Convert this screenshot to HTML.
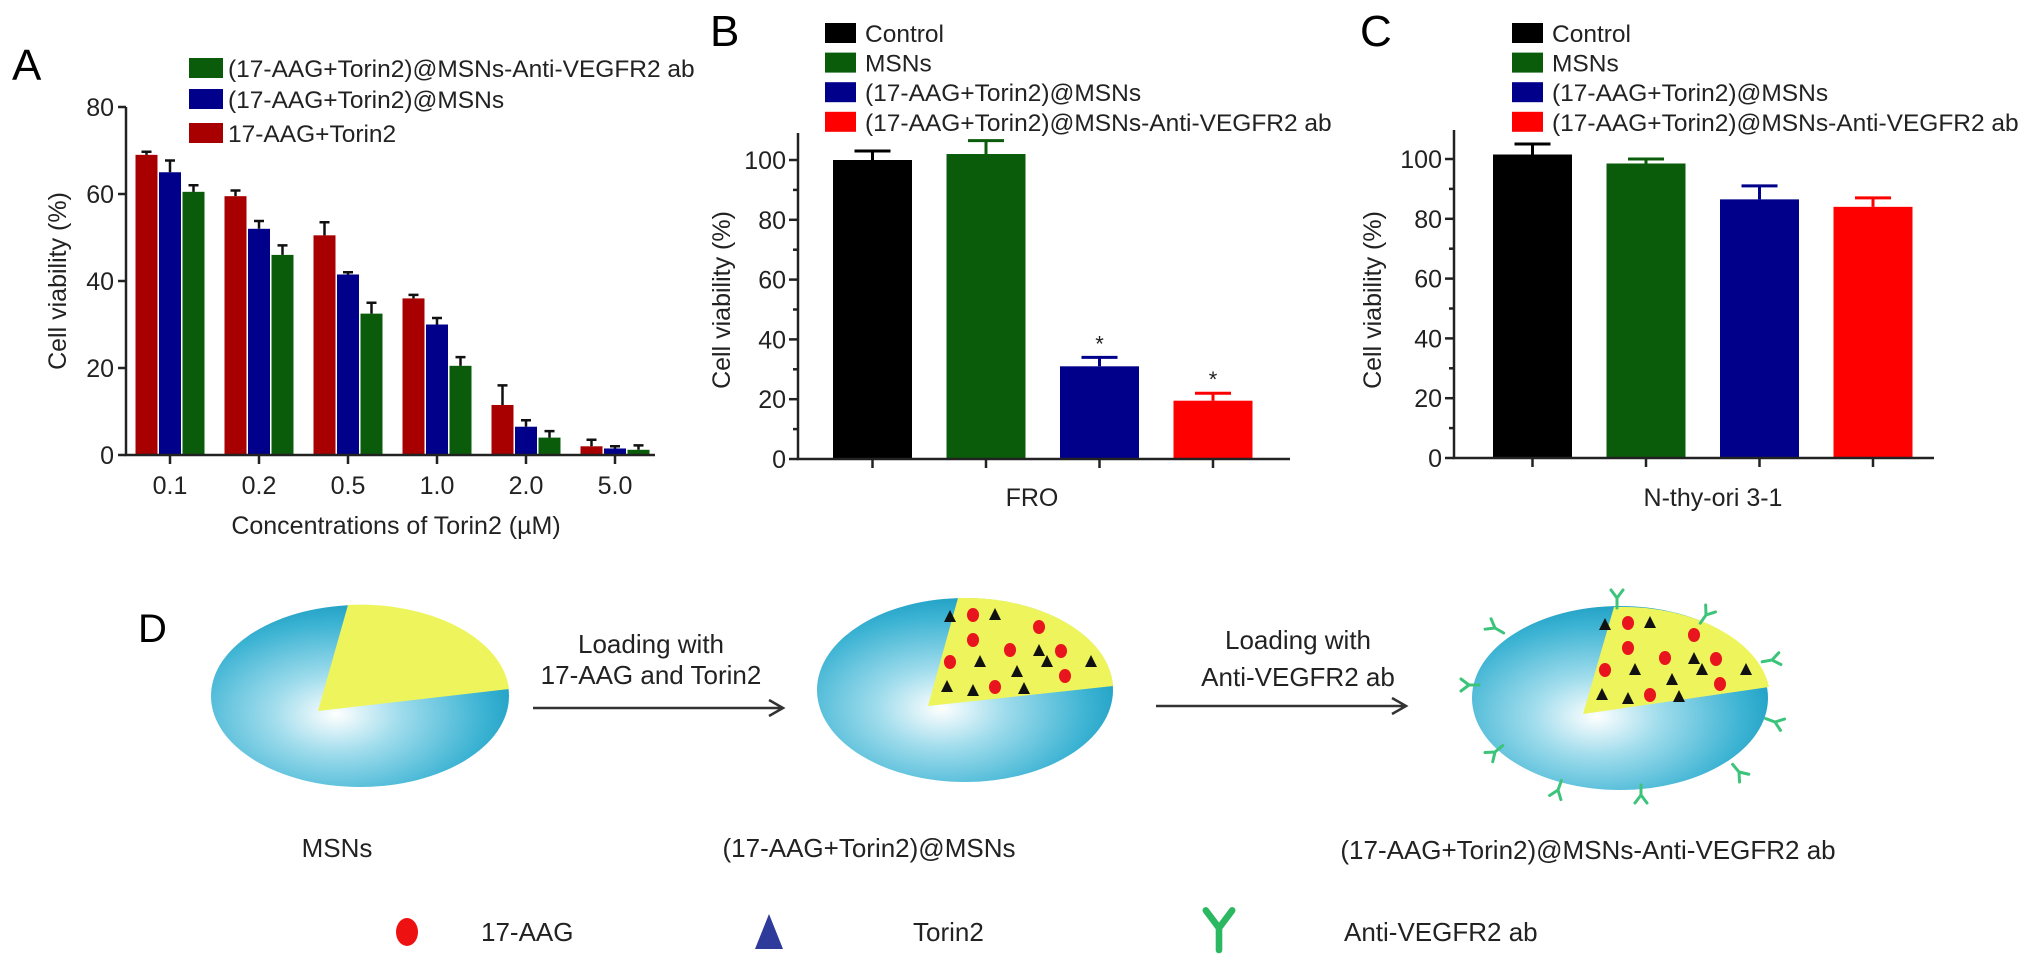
<!DOCTYPE html>
<html><head><meta charset="utf-8"><style>
html,body{margin:0;padding:0;background:#fff;}
svg{display:block;font-family:"Liberation Sans",sans-serif;}
</style></head><body>
<svg id="fig" width="2032" height="968" viewBox="0 0 2032 968" xmlns="http://www.w3.org/2000/svg">
<defs>
<radialGradient id="sph" cx="0.42" cy="0.6" r="0.62">
<stop offset="0" stop-color="#ffffff"/><stop offset="0.35" stop-color="#9fdcec"/><stop offset="0.8" stop-color="#3cb3d3"/><stop offset="1" stop-color="#1f9fc4"/>
</radialGradient>
</defs>
<g id="gA"></g>
<g id="gB"></g>
<g id="gC"></g>
<g id="gD"></g>
</svg>
<script>
// Panel A data
const aCategories = ["0.1","0.2","0.5","1.0","2.0","5.0"];
const aSeriesNames = ["17-AAG+Torin2","(17-AAG+Torin2)@MSNs","(17-AAG+Torin2)@MSNs-Anti-VEGFR2 ab"];
const aRed = [69,59.5,50.5,36,11.5,2];
const aBlue = [65,52,41.5,30,6.5,1.5];
const aGreen = [60.5,46,32.5,20.5,4,1.2];
const aRedErr = [0.7,1.3,3,0.8,4.5,1.5];
const aBlueErr = [2.7,1.8,0.5,1.5,1.5,0.5];
const aGreenErr = [1.5,2.2,2.5,2,1.5,1];
const aTicks = [0,20,40,60,80];
// Panel B data
const bCategories = ["Control","MSNs","(17-AAG+Torin2)@MSNs","(17-AAG+Torin2)@MSNs-Anti-VEGFR2 ab"];
const bValues = [100,102,31,19.5];
const bErrors = [3,4.5,3,2.5];
const bSignif = ["","","*","*"];
// Panel C data
const cValues = [101.5,98.5,86.5,84];
const cErrors = [3.5,1.5,4.5,3];
const bcTicks = [0,20,40,60,80,100];

const NS="http://www.w3.org/2000/svg";
function mk(parent,tag,attrs,text){const e=document.createElementNS(NS,tag);for(const k in attrs)e.setAttribute(k,attrs[k]);if(text!==undefined)e.textContent=text;parent.appendChild(e);return e;}

// ---------- Panel A ----------
(function(){
const g=document.getElementById('gA');
const x0=126, x1=655, yZero=455, yTop=107, vmax=80;
const y=v=>yZero-(v/vmax)*(yZero-yTop);
const groupX=i=>170+i*89;
const bw=22, gap=1.5;
const colors=["#a80000","#00008a","#0a5c0a"];
const series=[aRed,aBlue,aGreen], errs=[aRedErr,aBlueErr,aGreenErr];
let t=mk(g,'text',{x:12,y:80,'font-size':44},'A');

series.forEach((s,si)=>{
 s.forEach((v,i)=>{
  const cx=groupX(i)+(si-1)*(bw+gap);
  const r=mk(g,'rect',{x:cx-bw/2,y:y(v),width:bw,height:yZero-y(v),fill:colors[si]});
  
  
  const e=errs[si][i];
  const p=mk(g,'path',{d:`M${cx} ${y(v)}V${y(v+e)}M${cx-5} ${y(v+e)}H${cx+5}`,stroke:'#111','stroke-width':2.5,fill:'none'});
  
  
 });
});
mk(g,'path',{d:`M${x0} ${yTop}V${yZero}H${x1}`,stroke:'#222','stroke-width':2.5,fill:'none'});
aTicks.forEach(v=>{
 mk(g,'path',{d:`M${x0-8} ${y(v)}H${x0}`,stroke:'#222','stroke-width':2.5});
 const tt=mk(g,'text',{x:x0-12,y:y(v)+9,'font-size':25,'text-anchor':'end',fill:'#222'},v);
 
});
aCategories.forEach((c,i)=>{
 mk(g,'path',{d:`M${groupX(i)} ${yZero}V${yZero+9}`,stroke:'#222','stroke-width':2.5});
 const tt=mk(g,'text',{x:groupX(i),y:494,'font-size':25,'text-anchor':'middle',fill:'#222'},c);
 
});
let xt=mk(g,'text',{x:396,y:534,'font-size':25,'text-anchor':'middle',fill:'#222'},'Concentrations of Torin2 (\u00b5M)');

let yt=mk(g,'text',{x:0,y:0,'font-size':25,'text-anchor':'middle',fill:'#222',transform:'translate(66 281) rotate(-90)'},'Cell viability (%)');

const legOrder=[2,1,0], legY=[68,99,133];
legOrder.forEach((si,k)=>{
 mk(g,'rect',{x:189,y:legY[k]-10,width:34,height:20,fill:colors[si]});
 const lt=mk(g,'text',{x:228,y:legY[k]+9,'font-size':24.5,fill:'#222'},aSeriesNames[si]);
 
});
})();

// ---------- Panels B & C ----------
function barPanel(gid,letter,lx,axisX,axisEnd,yZero,yTop,barStart,values,errors,signif,xlabel,xlabelX,ytx,yLegTop,legX){
const g=document.getElementById(gid);
const vmax=100, y100=yZero-(yZero-yTop)*0; 
const pxPer=(yZero-(yZero-299))/100; // 299px per 100
const y=v=>yZero-v*2.99;
const colors=["#000000","#0a5c0a","#00008a","#ff0000"];
const bw=79, step=113.5;
let t=mk(g,'text',{x:lx,y:46,'font-size':44},letter);

values.forEach((v,i)=>{
 const x=barStart+i*step;
 const r=mk(g,'rect',{x:x,y:y(v),width:bw,height:yZero-y(v),fill:colors[i]});
 
 
 const cx=x+bw/2, e=errors[i];
 const ec=i==3?'#ff0000':(i==1?'#0a5c0a':(i==2?'#00008a':'#000'));
 const p=mk(g,'path',{d:`M${cx} ${y(v)}V${y(v+e)}M${cx-18} ${y(v+e)}H${cx+18}`,stroke:ec,'stroke-width':3,fill:'none'});
 
 
 mk(g,'path',{d:`M${cx} ${yZero}V${yZero+9}`,stroke:'#222','stroke-width':2.5});
 if(signif[i]){const s=mk(g,'text',{x:cx,y:y(v+e)-6,'font-size':22,'text-anchor':'middle',fill:'#222'},signif[i]);
  }
});
mk(g,'path',{d:`M${axisX} ${yTop}V${yZero}H${axisEnd}`,stroke:'#222','stroke-width':2.5,fill:'none'});
for(let v=0;v<=100;v+=10){mk(g,'path',{d:`M${axisX-(v%20?5:9)} ${y(v)}H${axisX}`,stroke:'#222','stroke-width':2.5});}
bcTicks.forEach(v=>{
 const tt=mk(g,'text',{x:axisX-12,y:y(v)+9,'font-size':25,'text-anchor':'end',fill:'#222'},v);
 
});
let xt=mk(g,'text',{x:xlabelX,y:506,'font-size':25,'text-anchor':'middle',fill:'#222'},xlabel);

let yt=mk(g,'text',{x:0,y:0,'font-size':25,'text-anchor':'middle',fill:'#222',transform:`translate(${ytx} 300) rotate(-90)`},'Cell viability (%)');

bCategories.forEach((c,i)=>{
 const ly=33+i*29.6;
 mk(g,'rect',{x:legX,y:ly-10,width:31,height:20,fill:colors[i]});
 const lt=mk(g,'text',{x:legX+40,y:ly+9,'font-size':24.5,fill:'#222'},c);
 
});
}
barPanel('gB','B',710,798,1290,459,133,833,bValues,bErrors,bSignif,'FRO',1032,730,33,825);
barPanel('gC','C',1360,1454,1934,458,130,1493,cValues,cErrors,["","","",""],'N-thy-ori 3-1',1713,1381,34,1512);

// ---------- Panel D (schematic) ----------
(function(){
const g=document.getElementById('gD');
let t=mk(g,'text',{x:138,y:642,'font-size':40},'D');

function sphere(cx,cy,rx,ry,top,right,corner,name){
 const s=mk(g,'ellipse',{cx:cx,cy:cy,rx:rx,ry:ry,fill:'url(#sph)'});
 
 const w=mk(g,'path',{d:`M${corner[0]} ${corner[1]}L${top[0]} ${top[1]}A${rx} ${ry} 0 0 1 ${right[0]} ${right[1]}Z`,fill:'#eef55c'});
 
}
sphere(360,696,149,91,[348,605],[509,689],[318,711],'msn-sphere');
sphere(965,690,148,92,[958,598],[1113,686],[928,706],'loaded-msn-sphere');
sphere(1620,698,148,92,[1614,607],[1769,687],[1583,714],'antibody-msn-sphere');
const dots=[[973,615],[1039,627],[973,640],[1010,650],[1061,651],[950,662],[1065,676],[995,687]];
const tris=[[950,617],[995,615],[1039,651],[980,662],[1047,662],[1091,662],[1017,672],[947,687],[973,691],[1024,689]];
[[0,0],[655,8]].forEach(o=>{
 dots.forEach(d=>mk(g,'ellipse',{cx:d[0]+o[0],cy:d[1]+o[1],rx:6,ry:7,fill:'#e8141e'}));
 tris.forEach(d=>{const x=d[0]+o[0],y=d[1]+o[1];mk(g,'path',{d:`M${x} ${y-7}L${x+6} ${y+5}L${x-6} ${y+5}Z`,fill:'#111'});});
});
function ab(x,y,rot,sc,col){
 const gg=mk(g,'g',{transform:`translate(${x} ${y}) rotate(${rot}) scale(${sc})`});
 mk(gg,'path',{d:'M0 10V0M0 0L-6 -8M0 0L6 -8',stroke:col,'stroke-width':3,fill:'none','stroke-linecap':'round'});
 return gg;
}
const abs=[[1617,598,0],[1706,615,35],[1495,628,-60],[1772,660,80],[1469,685,-90],[1775,722,110],[1495,752,-130],[1739,772,140],[1558,790,-160],[1641,795,180]];
abs.forEach(a=>{const e=ab(a[0],a[1],a[2],1,'#3cc47a');});
function arrow(x1,x2,y,name){
 const p=mk(g,'path',{d:`M${x1} ${y}H${x2}M${x2-14} ${y-8}L${x2} ${y}L${x2-14} ${y+8}`,stroke:'#333','stroke-width':2.5,fill:'none'});
 
}
arrow(533,783,708,'arrow-loading-drugs');
arrow(1156,1406,706,'arrow-loading-antibody');
function txt(x,y,s,anchor,name,size){const e=mk(g,'text',{x:x,y:y,'font-size':size||26,'text-anchor':anchor||'middle',fill:'#222'},s);}
txt(651,653,'Loading with','middle','step1-label-line1');
txt(651,684,'17-AAG and Torin2','middle','step1-label-line2');
txt(1298,649,'Loading with','middle','step2-label-line1');
txt(1298,686,'Anti-VEGFR2 ab','middle','step2-label-line2');
txt(337,857,'MSNs','middle','msn-caption');
txt(869,857,'(17-AAG+Torin2)@MSNs','middle','loaded-msn-caption');
txt(1588,859,'(17-AAG+Torin2)@MSNs-Anti-VEGFR2 ab','middle','antibody-msn-caption');
mk(g,'ellipse',{cx:407,cy:932,rx:11,ry:14,fill:'#ee1111'});
txt(481,941,'17-AAG','start','legend-17aag');
mk(g,'path',{d:'M769 914L783 949L755 949Z',fill:'#2e3b9a'});
txt(913,941,'Torin2','start','legend-torin2');
const la=ab(1219,928,0,2.2,'#2cb860');
txt(1344,941,'Anti-VEGFR2 ab','start','legend-anti-vegfr2');
})();
</script>
</body></html>
